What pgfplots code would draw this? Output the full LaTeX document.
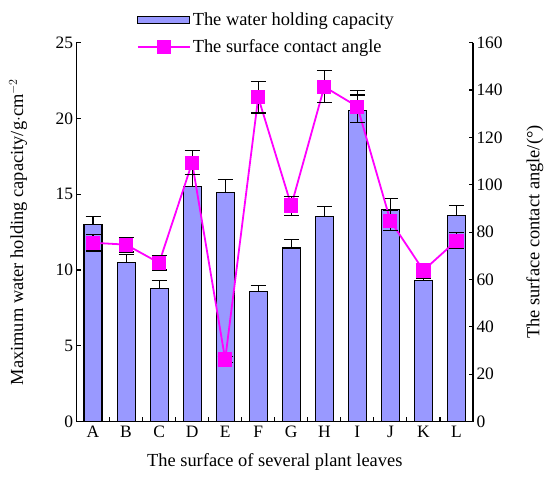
\documentclass[border=0pt]{standalone}
\usepackage{pgfplots}
\pgfplotsset{compat=1.18}
\usepackage{pgfplotstable}
\usepackage{fontspec}
\setmainfont{Liberation Serif}
\definecolor{barblue}{HTML}{9999FF}
\definecolor{mag}{HTML}{FF00FF}

\pgfplotstableread{
x val err
0 13.0 0.5
1 10.5 0.55
2 8.75 0.55
3 15.5 0.8
4 15.1 0.85
5 8.6 0.4
6 11.45 0.55
7 13.5 0.7
8 20.55 1.0
9 14.0 0.7
10 9.3 0.15
11 13.6 0.65
}\bars

\pgfplotstableread{
x val err
0 75.5 3.5
1 74.7 3.1
2 67.0 3.0
3 109.3 5.0
4 26.2 1.2
5 136.9 6.6
6 91.2 4.0
7 141.4 6.7
8 133.0 6.7
9 84.8 4.3
10 63.8 2.8
11 76.4 3.5
}\angles

\begin{document}
\begin{tikzpicture}
\pgfplotsset{
  common/.style={
    scale only axis,
    width=396.5bp, height=378.8bp,
    xmin=-0.5, xmax=11.5,
    axis line style={line width=1.3pt},
    tick style={line width=1.1pt, black},
    tick align=inside,
    major tick length=4.5bp,
    minor tick length=4.5bp,
    tick label style={font=\fontsize{17.5}{20}\selectfont},
    label style={font=\fontsize{18.5}{21}\selectfont},
    /pgf/number format/assume math mode=true,
  }
}
\begin{axis}[common,
  axis x line*=bottom, axis y line*=left,
  ymin=0, ymax=25,
  ytick={0,5,...,25},
  xtick={0,...,11},
  xticklabels={A,B,C,D,E,F,G,H,I,J,K,L},
  major x tick style={draw=none},
  minor xtick={0.5,1.5,...,10.5},
  ylabel={Maximum water holding capacity/g$\cdot$cm$^{-2}$},
  ylabel style={at={(axis description cs:-0.1475,0.5)}, anchor=center},
  xlabel={The surface of several plant leaves},
  xlabel style={at={(axis description cs:0.5,-0.107)}, anchor=center},
  xticklabel style={yshift=-1bp},
]
\addplot[ybar, bar width=18bp, fill=barblue, draw=black, line width=1.1pt,
  error bars/.cd, y dir=plus, y explicit,
  error bar style={line width=1.1pt, black},
  error mark options={rotate=90, mark size=7.5bp, line width=1.1pt, black}]
  table[x=x, y=val, y error=err] {\bars};
\end{axis}
\begin{axis}[common,
  axis x line=none, axis y line*=right,
  ymin=0, ymax=160,
  ytick={0,20,...,160},
  ylabel={The surface contact angle/(°)},
  ylabel style={at={(axis description cs:1.156,0.5)}, anchor=center, rotate=0},
  legend style={at={(axis description cs:0.152,1.085)}, anchor=north west,
    draw=none, fill=none, inner sep=0pt, row sep=9bp,
    font=\fontsize{18.5}{21}\selectfont},
  legend cell align=left,
]
\coordinate (BL) at (rel axis cs:0,0);
\coordinate (TR) at (rel axis cs:1,1);
\addlegendimage{legend image code/.code={\draw[fill=barblue, draw=black, line width=1.1pt] (0bp,-3.5bp) rectangle (52bp,3.5bp);}}
\addlegendentry{The water holding capacity}
\addplot[mag, line width=1.8pt, mark=square*, mark size=6.2bp, mark options={fill=mag, draw=mag},
  legend image code/.code={\draw[mag, line width=1.8pt] (0bp,0bp) -- (52bp,0bp); \fill[mag] (20bp,-6bp) rectangle (32bp,6bp);},
  error bars/.cd, y dir=both, y explicit,
  error bar style={line width=1.1pt, black},
  error mark options={rotate=90, mark size=7.5bp, line width=1.1pt, black}]
  table[x=x, y=val, y error=err] {\angles};
\addlegendentry{The surface contact angle}
\end{axis}
\pgfresetboundingbox
\path[use as bounding box] ([xshift=-76.5bp,yshift=-55.5bp]BL) rectangle ([xshift=76bp,yshift=42.7bp]TR);
\end{tikzpicture}
\end{document}
